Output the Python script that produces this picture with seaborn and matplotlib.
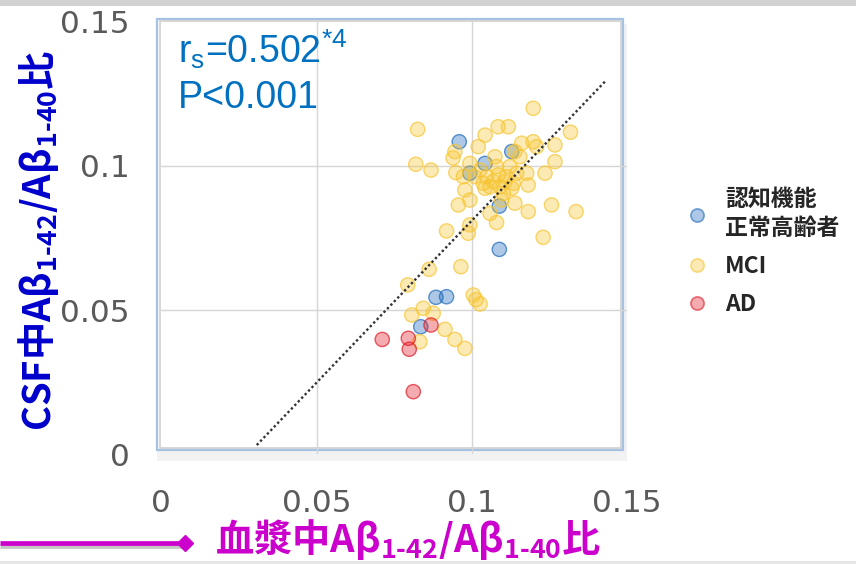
import pandas as pd
import seaborn as sns
import matplotlib.pyplot as plt
from matplotlib.lines import Line2D
from matplotlib.patches import Rectangle
from matplotlib.colors import to_rgba
from matplotlib.font_manager import FontProperties

# Plasma vs CSF Aβ1-42/Aβ1-40 ratio for each diagnostic group
normal_plasma = [0.0959, 0.1042, 0.1128, 0.0993, 0.1088, 0.1088, 0.0918, 0.0884, 0.0835]
normal_csf = [0.1083, 0.1008, 0.1049, 0.0974, 0.0860, 0.0710, 0.0546, 0.0544, 0.0442]

mci_plasma = [0.1197, 0.0825, 0.1084, 0.1117, 0.1042, 0.1317, 0.1020, 0.1160, 0.1197, 0.1267,
              0.1208, 0.0945, 0.0939, 0.0819, 0.0868, 0.0948, 0.0993, 0.1267, 0.1235, 0.1176,
              0.1181, 0.1133, 0.0977, 0.0993, 0.0956, 0.1138, 0.1181, 0.1256, 0.1335, 0.1058,
              0.1079, 0.0918, 0.0988, 0.0993, 0.1229, 0.0862, 0.0964, 0.0793, 0.1004, 0.1026,
              0.0806, 0.0843, 0.0875, 0.0913, 0.0945, 0.0977, 0.0832, 0.1013,
              0.1026, 0.1047, 0.1068, 0.1090, 0.1111, 0.1122, 0.1144, 0.1101, 0.1079, 0.1058,
              0.1036, 0.1106, 0.1084, 0.1128, 0.1009, 0.1154, 0.1138, 0.1074, 0.0972, 0.1095,
              0.1042]
mci_csf = [0.1199, 0.1126, 0.1135, 0.1135, 0.1106, 0.1116, 0.1066, 0.1078, 0.1083, 0.1072,
           0.1066, 0.1049, 0.1027, 0.1005, 0.0985, 0.0976, 0.1008, 0.1014, 0.0974, 0.0974,
           0.0933, 0.0939, 0.0916, 0.0881, 0.0864, 0.0870, 0.0841, 0.0864, 0.0841, 0.0835,
           0.0803, 0.0774, 0.0766, 0.0795, 0.0752, 0.0641, 0.0650, 0.0587, 0.0552, 0.0521,
           0.0483, 0.0506, 0.0489, 0.0433, 0.0398, 0.0367, 0.0390, 0.0536,
           0.0985, 0.0962, 0.0945, 0.0927, 0.0962, 0.0997, 0.0974, 0.0904, 0.0997, 0.0927,
           0.0939, 0.0945, 0.0968, 0.0922, 0.0962, 0.1031, 0.1049, 0.1031, 0.0962, 0.0881,
           0.0922]

ad_plasma = [0.0711, 0.0795, 0.0798, 0.0868, 0.0811]
ad_csf = [0.0398, 0.0402, 0.0364, 0.0448, 0.0217]

group_names = ["認知機能\n正常高齢者", "MCI", "AD"]
group_colors = ["#1E69BB", "#F7C531", "#E11925"]

tick_values = [0, 0.05, 0.1, 0.15]
tick_labels = ["0", "0.05", "0.1", "0.15"]
grid_values = [0.05, 0.1]

# regression line end points
fit_x = [0.0307, 0.1433]
fit_y = [0.0032, 0.1297]

rs_text = r"r$_{s}$=0.502$^{*4}$"
p_text = "P<0.001"
xlabel_text = r"血漿中Aβ$_{1\text{-}42}$/Aβ$_{1\text{-}40}$比"
ylabel_text = r"CSF中Aβ$_{1\text{-}42}$/Aβ$_{1\text{-}40}$比"

df = pd.concat([
    pd.DataFrame({"plasma": normal_plasma, "csf": normal_csf, "group": group_names[0]}),
    pd.DataFrame({"plasma": mci_plasma, "csf": mci_csf, "group": group_names[1]}),
    pd.DataFrame({"plasma": ad_plasma, "csf": ad_csf, "group": group_names[2]}),
], ignore_index=True)

sns.set_style("white")
plt.rcParams["font.family"] = ["DejaVu Sans"]
plt.rcParams["mathtext.default"] = "regular"
plt.rcParams["mathtext.fontset"] = "custom"
plt.rcParams["mathtext.rm"] = "Noto Sans CJK JP:bold"

W, H = 856, 564


def fx(px):
    return px / W


def fy(py):
    return 1 - py / H


fig = plt.figure(figsize=(W / 100, H / 100), dpi=100)
fig.patch.set_facecolor("white")

# page decorations: top band, bottom rule
fig.add_artist(Rectangle((0, fy(6)), 1, 6 / H, transform=fig.transFigure,
                         facecolor="#D2D2D2", edgecolor="none", zorder=-5))
fig.add_artist(Rectangle((0, 0), 1, 3 / H, transform=fig.transFigure,
                         facecolor="#E6E6E6", edgecolor="none", zorder=-5))

# plot frame with soft shadow
fig.add_artist(Rectangle((fx(157), fy(461)), (627 - 157) / W, (461 - 24) / H,
                         transform=fig.transFigure, facecolor="#F2F2F2",
                         edgecolor="none", zorder=-4))
fig.add_artist(Rectangle((fx(157), fy(450)), (623 - 157) / W, (450 - 18.5) / H,
                         transform=fig.transFigure, facecolor="white",
                         edgecolor="#A6C2E2", linewidth=1.6, zorder=-3))
fig.add_artist(Rectangle((fx(159.5), fy(448)), (620.5 - 159.5) / W, (448 - 21) / H,
                         transform=fig.transFigure, facecolor="none",
                         edgecolor="#CFCFCF", linewidth=1.2, zorder=-2))

ax = fig.add_axes([fx(161.4), fy(454.3), (627.3 - 161.4) / W, (454.3 - 21.4) / H])
ax.patch.set_visible(False)
for s in ax.spines.values():
    s.set_visible(False)

sns.scatterplot(data=df, x="plasma", y="csf", hue="group", hue_order=group_names,
                palette=group_colors, s=105, linewidth=1.0, legend=False, ax=ax,
                zorder=3)
# translucent fill with a stronger outline in the same hue
points = ax.collections[-1]
points.set_alpha(None)
face = points.get_facecolors().copy()
edge = face.copy()
face[:, 3] = 0.36
edge[:, 3] = 0.7
points.set_facecolor(face)
points.set_edgecolor(edge)

sns.lineplot(x=fit_x, y=fit_y, color="#333333", linewidth=1.7,
             linestyle=(0, (1, 1.1)), ax=ax, zorder=4)

for v in grid_values:
    ax.axvline(v, color="#D6D6D6", linewidth=1.0, zorder=1)
    ax.axhline(v, color="#D6D6D6", linewidth=1.0, zorder=1)

ax.set_xlim(tick_values[0], tick_values[-1])
ax.set_ylim(tick_values[0], tick_values[-1])
ax.set_xticks(tick_values)
ax.set_xticklabels(tick_labels)
ax.set_yticks(tick_values)
ax.set_yticklabels(tick_labels)
ax.grid(False)
ax.tick_params(length=0)
ax.tick_params(axis="both", labelsize=22.5, labelcolor="#5A5A5A")
ax.tick_params(axis="x", pad=25)
ax.tick_params(axis="y", pad=23)
ax.set_xlabel("")
ax.set_ylabel("")

# statistics annotation
stat_font = dict(family="Liberation Sans", size=27, color="#0070C0")
fig.text(fx(178), fy(63), rs_text, ha="left", va="baseline", **stat_font)
fig.text(fx(178), fy(108), p_text, ha="left", va="baseline", **stat_font)

# axis titles
label_font = dict(family="Noto Sans CJK JP", weight="bold", size=27.5)
fig.text(fx(215), fy(552), xlabel_text, ha="left", va="baseline",
         color="#CC00CC", **label_font)
fig.text(fx(38.5), fy(240), ylabel_text, ha="center", va="center", rotation=90,
         color="#0000CC", **label_font)

# arrow leading into the x-axis title
fig.add_artist(Line2D([0, fx(183)], [fy(546), fy(546)], transform=fig.transFigure,
                      color="#C4C4C4", linewidth=3.4, solid_capstyle="butt"))
fig.add_artist(Line2D([0, fx(180)], [fy(543), fy(543)], transform=fig.transFigure,
                      color="#CC00CC", linewidth=3.4, solid_capstyle="butt"))
fig.add_artist(Line2D([fx(185)], [fy(543)], transform=fig.transFigure, marker="D",
                      markersize=8, color="#CC00CC", linestyle=""))

# legend
handles = [Line2D([], [], linestyle="", marker="o", markersize=9.5,
                  markerfacecolor=to_rgba(c, 0.36), markeredgecolor=to_rgba(c, 0.6),
                  markeredgewidth=1.2) for c in group_colors]
leg = fig.legend(handles, group_names, loc="upper left", bbox_to_anchor=(fx(686), fy(188)),
                 frameon=False,
                 prop=FontProperties(family="Noto Sans CJK JP", weight="bold", size=16.5),
                 handlelength=1.0, handletextpad=0.7, labelspacing=0.65, borderpad=0,
                 borderaxespad=0)
for t in leg.get_texts():
    t.set_linespacing(1.35)

fig.savefig("out.png", dpi=100)
